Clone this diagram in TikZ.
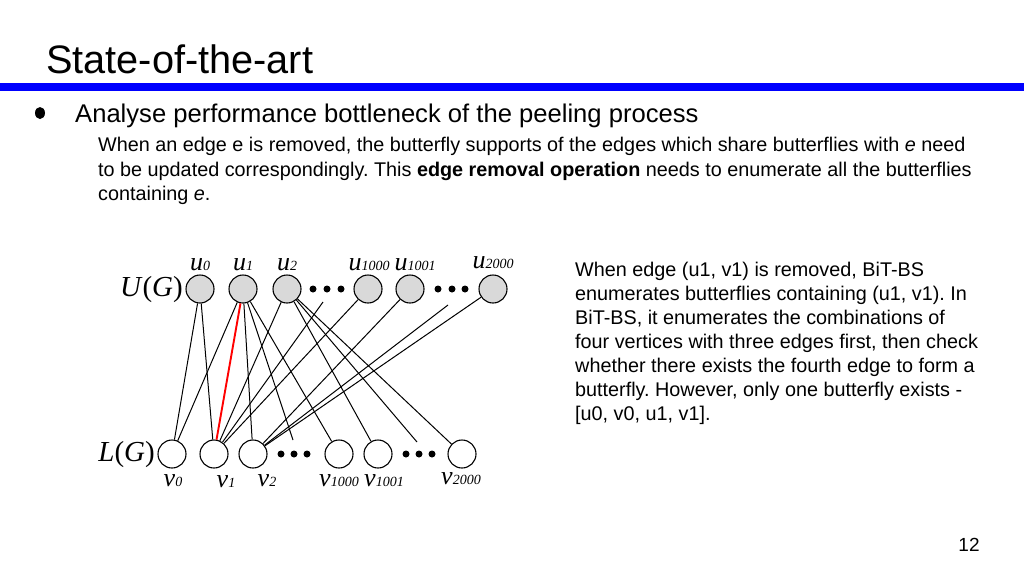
\documentclass[tikz,border=0pt]{standalone}
\usepackage{fontspec}
\setmainfont{Liberation Sans}
\newfontfamily\timesf{Liberation Serif}
\usetikzlibrary{positioning}
\definecolor{upgray}{RGB}{217,217,217}
\definecolor{barblue}{RGB}{0,0,255}
\newcommand{\vname}[2]{{\timesf\fontsize{26}{26}\selectfont\itshape #1}{\timesf\fontsize{14}{14}\selectfont\itshape #2}}
\newcommand{\sidename}[1]{{\timesf\fontsize{29}{29}\selectfont\textit{#1}(\textit{G})}}
\frenchspacing

\begin{document}
\begin{tikzpicture}[x=1pt, y=-1pt,
  upnode/.style={draw, circle, minimum size=28pt, inner sep=0pt, fill=upgray, line width=1.1pt},
  lownode/.style={draw, circle, minimum size=28pt, inner sep=0pt, fill=white, line width=1.1pt},
  link/.style={line width=1pt},
  hotlink/.style={red, line width=1.9pt},
  vlbl/.style={inner sep=0pt, anchor=base},
  txt/.style={inner sep=0pt, anchor=base west}
]
\useasboundingbox (0,0) rectangle (1024,576);

% header
\node[txt, font=\fontsize{39.7}{39.7}\selectfont] (title) at (46,73) {State-of-the-art};
\fill[barblue] (0,83) rectangle (1024,91);
\fill (40,113) ellipse (5 and 6);
\node[txt, font=\fontsize{25.6}{25.6}\selectfont] (point) at (75,122) {Analyse performance bottleneck of the peeling process};
\node[inner sep=0pt, anchor=north west, align=left, font=\fontsize{19.8}{24.5}\selectfont] (detail) at (98,137)
  {When an edge e is removed, the butterfly supports of the edges which share butterflies with \textit{e} need\\
   to be updated correspondingly. This \textbf{edge removal operation} needs to enumerate all the butterflies\\
   containing \textit{e}.};

% U(G)
\node[upnode] (u0) at (200,289) {};
\node[upnode] (u1) at (243,289) {};
\node[upnode] (u2) at (287,289) {};
\node[upnode] (u1000) at (368,289) {};
\node[upnode] (u1001) at (410,289) {};
\node[upnode] (u2000) at (493,289) {};
\fill (313,289) circle (3.5) (327,289) circle (3.5) (341,289) circle (3.5);
\fill (438,289) circle (3.5) (452,289) circle (3.5) (465,289) circle (3.5);
\node[inner sep=0pt, anchor=east] (UG) at (183,290) {\sidename{U}};

% L(G)
\node[lownode] (v0) at (172,454) {};
\node[lownode] (v1) at (214,454) {};
\node[lownode] (v2) at (253,454) {};
\node[lownode] (v1000) at (339,454) {};
\node[lownode] (v1001) at (378,454) {};
\node[lownode] (v2000) at (462,454) {};
\fill (281,454) circle (3.5) (294,454) circle (3.5) (307,454) circle (3.5);
\fill (406,454) circle (3.5) (419,454) circle (3.5) (432,454) circle (3.5);
\node[inner sep=0pt, anchor=east] (LG) at (155,455) {\sidename{L}};

% vertex names
\node[vlbl] (lu0) at (200,270) {\vname{u}{0}};
\node[vlbl] (lu1) at (243,270) {\vname{u}{1}};
\node[vlbl] (lu2) at (287,270) {\vname{u}{2}};
\node[vlbl] (lu1000) at (369,270) {\vname{u}{1000}};
\node[vlbl] (lu1001) at (415,270) {\vname{u}{1001}};
\node[vlbl] (lu2000) at (493,268) {\vname{u}{2000}};
\node[vlbl] (lv0) at (173,486) {\vname{v}{0}};
\node[vlbl] (lv1) at (226,487) {\vname{v}{1}};
\node[vlbl] (lv2) at (267,486) {\vname{v}{2}};
\node[vlbl] (lv1000) at (339,486) {\vname{v}{1000}};
\node[vlbl] (lv1001) at (384,486) {\vname{v}{1001}};
\node[vlbl] (lv2000) at (461,484) {\vname{v}{2000}};

% loose ends near the dots
\coordinate (du1) at (323,302);
\coordinate (du2) at (448,305);
\coordinate (dl1) at (293,440);
\coordinate (dl2) at (417,442);

% edges
\draw[link] (u0) -- (v0);
\draw[link] (u0) -- (v1);
\draw[link] (u1) -- (v0);
\draw[link] (u1) -- (v2);
\draw[link] (u1) -- (dl1);
\draw[link] (u1) -- (v1000);
\draw[link] (u2) -- (v1);
\draw[link] (u2) -- (v1001);
\draw[link] (u2) -- (dl2);
\draw[link] (u2) -- (v2000);
\draw[link] (du1) -- (v1);
\draw[link] (u1000) -- (v1);
\draw[link] (u1001) -- (v2);
\draw[link] (du2) -- (v2);
\draw[link] (u2000) -- (v2);
\draw[hotlink] (u1) -- (v1);

% explanation
\node[inner sep=0pt, anchor=north west, align=left, font=\fontsize{19.8}{24}\selectfont] (note) at (575,262)
  {When edge (u1, v1) is removed, BiT-BS\\
   enumerates butterflies containing (u1, v1). In\\
   BiT-BS, it enumerates the combinations of\\
   four vertices with three edges first, then check\\
   whether there exists the fourth edge to form a\\
   butterfly. However, only one butterfly exists -\\
   {[}u0, v0, u1, v1].};

\node[inner sep=0pt, font=\fontsize{19}{19}\selectfont] (page) at (969,545) {12};
\end{tikzpicture}
\end{document}
